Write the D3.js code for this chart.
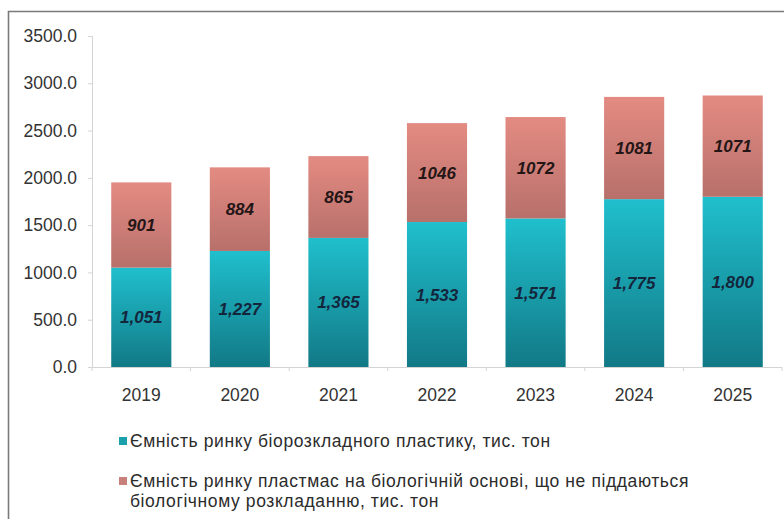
<!DOCTYPE html>
<html>
<head>
<meta charset="utf-8">
<script src="https://cdn.jsdelivr.net/npm/d3@7/dist/d3.min.js"></script>
<style>
  html, body { margin: 0; padding: 0; background: #fff; }
  svg { display: block; font-family: "Liberation Sans", Arial, sans-serif; }
</style>
</head>
<body>
<svg id="chart" width="784" height="519"></svg>
<script>
// Market volume of bioplastics, thousand tonnes
const years = ["2019", "2020", "2021", "2022", "2023", "2024", "2025"];
const biodegradable = [1051, 1227, 1365, 1533, 1571, 1775, 1800];
const biobasedNonDegradable = [901, 884, 865, 1046, 1072, 1081, 1071];
const yTicks = [0, 500, 1000, 1500, 2000, 2500, 3000, 3500];
const seriesNames = [
  "Ємність ринку біорозкладного пластику, тис. тон",
  ["Ємність ринку пластмас на біологічній основі, що не піддаються", "біологічному розкладанню, тис. тон"]
];

const svg = d3.select("#chart");

// Frame around the chart area
svg.append("path")
  .attr("d", "M8.5,519 L8.5,11.5 L784,11.5")
  .attr("fill", "none")
  .attr("stroke", "#7a7a7a")
  .attr("stroke-width", 1.6);

const defs = svg.append("defs");
function vGrad(id, top, bottom) {
  const g = defs.append("linearGradient").attr("id", id)
    .attr("x1", 0).attr("y1", 0).attr("x2", 0).attr("y2", 1);
  g.append("stop").attr("offset", "0%").attr("stop-color", top);
  g.append("stop").attr("offset", "100%").attr("stop-color", bottom);
}
vGrad("gTeal", "#20bfcd", "#127986");
vGrad("gRose", "#e38b82", "#b8706b");

const x = d3.scaleBand().domain(years).range([92, 782]).paddingInner(0.39).paddingOuter(0.195);
const y = d3.scaleLinear().domain([0, 3500]).range([367, 36]);

// Y axis
const yAxis = svg.append("g").attr("transform", "translate(92,0)")
  .call(d3.axisLeft(y).tickValues(yTicks).tickFormat(d3.format(".1f")).tickSize(4).tickPadding(11));
yAxis.select(".domain").attr("stroke", "#d4d4d4");
yAxis.selectAll(".tick line").attr("stroke", "#d4d4d4");
yAxis.selectAll(".tick text").attr("fill", "#333").style("font-size", "17.5px");

// Stacked bars
const rows = years.map((yr, i) => ({ year: yr, a: biodegradable[i], b: biobasedNonDegradable[i] }));
const bars = svg.append("g");
bars.selectAll("rect.a").data(rows).join("rect")
  .attr("class", "a")
  .attr("x", d => x(d.year)).attr("width", x.bandwidth())
  .attr("y", d => y(d.a)).attr("height", d => y(0) - y(d.a))
  .attr("fill", "url(#gTeal)");
bars.selectAll("rect.b").data(rows).join("rect")
  .attr("class", "b")
  .attr("x", d => x(d.year)).attr("width", x.bandwidth())
  .attr("y", d => y(d.a + d.b)).attr("height", d => y(d.a) - y(d.a + d.b))
  .attr("fill", "url(#gRose)");

// X axis
const xAxisG = svg.append("g").attr("transform", "translate(0,367)");
xAxisG.append("line").attr("x1", 92).attr("x2", 782).attr("y1", 0.5).attr("y2", 0.5)
  .attr("stroke", "#d4d4d4");
const bounds = years.map(yr => x(yr) - x.step() * x.paddingInner() / 2).concat([782]);
xAxisG.selectAll("line.tk").data(bounds).join("line").attr("class", "tk")
  .attr("x1", d => d).attr("x2", d => d).attr("y1", 0).attr("y2", 4)
  .attr("stroke", "#d4d4d4");
xAxisG.selectAll("text").data(years).join("text")
  .attr("x", d => x(d) + x.bandwidth() / 2).attr("y", 34)
  .attr("text-anchor", "middle").attr("fill", "#333")
  .style("font-size", "17.5px").text(d => d);

// Value labels
const lab = svg.append("g").style("font-weight", "bold").style("font-style", "italic").style("font-size", "17px");
lab.selectAll("text.a").data(rows).join("text").attr("class", "a")
  .attr("x", d => x(d.year) + x.bandwidth() / 2)
  .attr("y", d => (y(0) + y(d.a)) / 2 + 6)
  .attr("text-anchor", "middle").attr("fill", "#14263c")
  .text(d => d3.format(",")(d.a));
lab.selectAll("text.b").data(rows).join("text").attr("class", "b")
  .attr("x", d => x(d.year) + x.bandwidth() / 2)
  .attr("y", d => (y(d.a) + y(d.a + d.b)) / 2 + 6)
  .attr("text-anchor", "middle").attr("fill", "#241616")
  .text(d => d.b);

// Legend
const leg = svg.append("g").style("font-size", "17.5px").style("letter-spacing", "0.6px").attr("fill", "#2c2c2c");
leg.append("rect").attr("x", 119).attr("y", 437).attr("width", 8).attr("height", 8).attr("fill", "#1a9fab");
leg.append("text").attr("x", 130).attr("y", 447).text(seriesNames[0]);
leg.append("rect").attr("x", 119).attr("y", 477).attr("width", 8).attr("height", 8).attr("fill", "#c8807b");
leg.append("text").attr("x", 130).attr("y", 487).text(seriesNames[1][0]);
leg.append("text").attr("x", 130).attr("y", 507).text(seriesNames[1][1]);
</script>
</body>
</html>
